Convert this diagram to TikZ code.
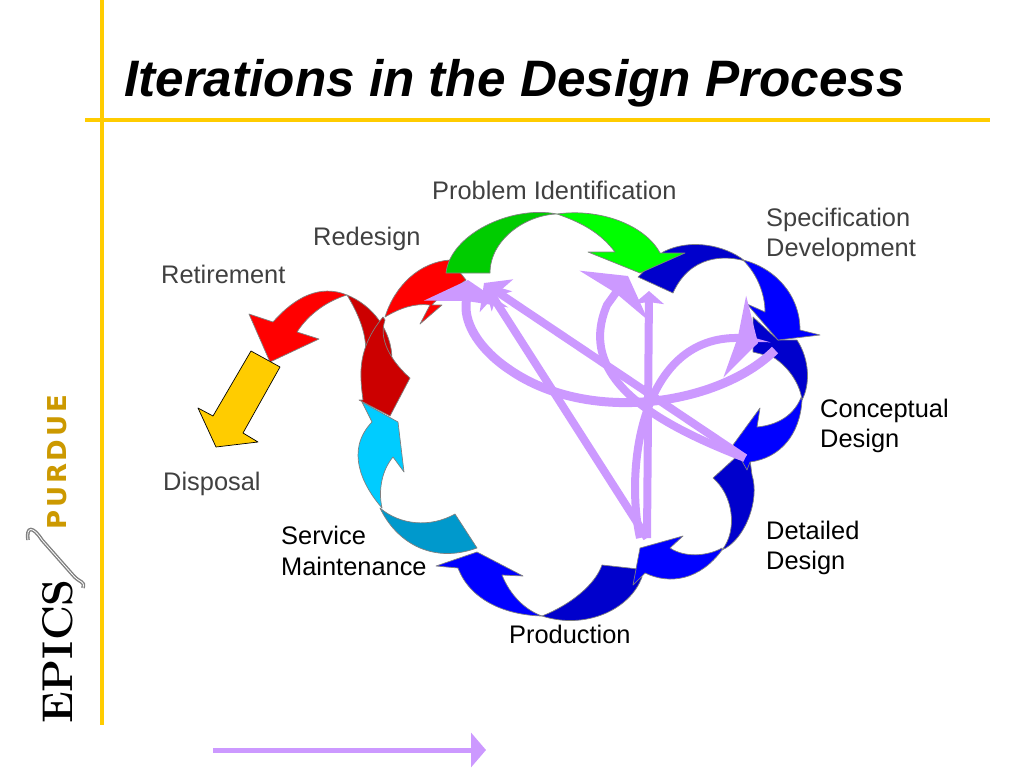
\documentclass[tikz,border=0pt]{standalone}
\usepackage{fontspec}
\usepackage{tikz}
\usetikzlibrary{arrows.meta}
\setmainfont{Liberation Sans}
\newfontfamily\logofont{DejaVu Sans}[LetterSpace=11]
\newfontfamily\epicsfont{Latin Modern Roman}
\definecolor{ruleyellow}{HTML}{FFCC00}
\definecolor{lilac}{HTML}{CC99FF}
\definecolor{teal2}{HTML}{0099CC}
\definecolor{sky}{HTML}{00CCFF}
\definecolor{gold}{HTML}{CC9900}
\definecolor{greytext}{HTML}{404040}
\tikzset{
  band/.style={draw=gray, line width=.7pt, line join=round},
  lbl/.style={font=\fontsize{25.4}{30.7}\selectfont, inner sep=0pt, align=left, anchor=west},
  hop/.style={color=lilac, line width=8pt},
  bighead/.style={-{Stealth[length=24pt,width=84pt,inset=3pt]}},
  midhead/.style={-{Stealth[length=22pt,width=38pt,inset=5pt]}},
  smallhead/.style={-{Stealth[length=13pt,width=30pt,inset=2pt]}}
}
\begin{document}
\begin{tikzpicture}[x=1pt,y=-1pt]
\useasboundingbox (0,0) rectangle (1024,768);
% frame and title
\draw[ruleyellow, line width=4pt] (102,0) -- (102,725);
\draw[ruleyellow, line width=4pt] (85,120) -- (990,120);
\node[inner sep=0pt, anchor=base west, font=\fontsize{51.25}{60}\selectfont\bfseries\itshape] (title) at (124,96) {Iterations in the Design Process};
% logo
\node[rotate=90, inner sep=0pt, anchor=base west, text=gold, font=\fontsize{26}{30}\selectfont\logofont\bfseries] (purdue) at (66,530) {PURDUE};
\node[rotate=90, inner sep=0pt, anchor=base west, font=\fontsize{43}{50}\selectfont\epicsfont\bfseries] (epics) at (72,724) {EPICS};
\draw[gray, line width=1.4pt, double=white, double distance=.8pt] (28,540) .. controls (26,526) and (33,526) .. (42,540) -- (72,574) .. controls (80,584) and (85,580) .. (83,588);
% cycle, back to front
\fill[band, fill=red] (347,295) .. controls (320,284) and (295,297) .. (273,322) -- (249,314) -- (270,362) -- (319,339) -- (297,332) .. controls (310,312) and (330,300) .. (347,295) -- cycle;
\fill[band, fill=ruleyellow, draw=black] (251,351) -- (280,367) -- (243,433) -- (258,442) -- (216,447) -- (198,408) -- (213,416) -- cycle;
\fill[band, fill=red!80!black] (347,295) .. controls (372,305) and (392,330) .. (392,360) -- (365,360) .. controls (368,340) and (362,320) .. (347,295) -- cycle;
\fill[band, fill=red] (385,317) .. controls (395,285) and (420,262) .. (450,260) -- (466,280) .. controls (450,292) and (435,300) .. (432,305) -- (442,305) -- (420,324) -- (430,305) .. controls (415,303) and (400,308) .. (385,317) -- cycle;
\fill[band, fill=red!80!black] (383,317) .. controls (368,335) and (360,355) .. (361,378) .. controls (361,385) and (362,392) .. (363,400) -- (359,400) -- (390,416) -- (410,378) .. controls (392,362) and (378,340) .. (385,320) -- cycle;
\fill[band, fill=sky] (382,508) .. controls (362,485) and (345,450) .. (372,422) -- (362,402) -- (398,422) -- (404,472) -- (393,457) .. controls (382,470) and (378,490) .. (382,508) -- cycle;
\fill[band, fill=teal2] (380,508) .. controls (395,540) and (430,565) .. (477,548) -- (455,514) .. controls (430,528) and (400,525) .. (380,508) -- cycle;
\fill[band, fill=blue] (542,616) .. controls (505,615) and (470,600) .. (458,568) -- (436,566) -- (477,552) -- (523,576) -- (502,575) .. controls (510,595) and (525,610) .. (542,616) -- cycle;
\fill[band, fill=blue!80!black] (542,616) .. controls (585,630) and (630,610) .. (642,577) -- (638,569) -- (602,565) .. controls (595,585) and (570,605) .. (542,616) -- cycle;
\fill[band, fill=blue] (722,550) .. controls (700,580) and (670,585) .. (645,573) -- (633,585) -- (640,548) -- (683,536) -- (670,548) .. controls (685,558) and (708,556) .. (722,548) -- cycle;
\fill[band, fill=blue!80!black] (735,458) -- (713,478) .. controls (733,495) and (738,530) .. (722,550) .. controls (745,540) and (760,500) .. (752,475) -- (750,460) -- cycle;
\fill[band, fill=blue] (802,400) .. controls (800,435) and (780,458) .. (750,462) -- (747,470) -- (733,445) -- (760,408) -- (757,427) .. controls (778,425) and (795,415) .. (802,395) -- cycle;
\fill[band, fill=blue!80!black] (753,317) -- (778,340) -- (797,340) .. controls (810,360) and (810,385) .. (802,400) .. controls (800,385) and (790,368) .. (773,357) -- (753,352) -- cycle;
\fill[band, fill=blue] (743,260) .. controls (775,268) and (800,295) .. (800,330) -- (820,335) -- (778,340) -- (747,304) -- (765,312) .. controls (765,295) and (758,275) .. (743,260) -- cycle;
\fill[band, fill=blue!80!black] (638,277) -- (663,252) .. controls (690,238) and (725,245) .. (745,261) .. controls (725,255) and (690,255) .. (673,293) -- cycle;
\fill[band, fill=green!80!black] (446,273) .. controls (450,235) and (510,205) .. (557,214) .. controls (525,215) and (490,240) .. (490,273) -- cycle;
\fill[band, fill=green] (557,214) .. controls (600,208) and (645,225) .. (660,253) -- (685,253) -- (640,273) -- (588,252) -- (615,252) .. controls (600,232) and (580,222) .. (557,214) -- cycle;
% feedback paths
\coordinate (srcA) at (640,538);
\coordinate (srcB) at (647,538);
\coordinate (srcC) at (745,458);
\coordinate (srcD) at (775,350);
\coordinate (dstTop) at (649,291);
\coordinate (dstMid) at (628,276);
\coordinate (dstRight) at (758,343);
\coordinate (dstArc) at (468,280);
\coordinate (dstLeft) at (484,283);
\draw[hop, smallhead] (srcB) -- (dstTop);
\draw[hop, midhead] (srcB) -- (dstLeft);
\draw[hop, midhead] (srcC) -- (dstLeft);
\draw[hop, bighead] (srcC) .. controls (660,425) and (575,380) .. (607,305) -- (dstMid);
\draw[hop, bighead] (srcA) .. controls (625,470) and (640,335) .. (740,338) -- (dstRight);
\draw[hop, bighead, line width=9pt] (srcD) .. controls (720,405) and (590,425) .. (510,370) .. controls (480,350) and (465,325) .. (466,305) -- (dstArc);
\draw[lilac, line width=5pt, -{Stealth[length=15pt,width=34pt,inset=0pt]}] (213,750) -- (486,750);
% labels
\node[lbl, text=greytext] (problem) at (432,190) {Problem Identification};
\node[lbl, text=greytext] (spec) at (766,235) {Specification\\Development};
\node[lbl, text=greytext] (redesign) at (313,239) {Redesign};
\node[lbl, text=greytext] (retire) at (161,274) {Retirement};
\node[lbl, text=greytext] (disposal) at (163,484) {Disposal};
\node[lbl] (service) at (281,551) {Service\\Maintenance};
\node[lbl] (production) at (509,634) {Production};
\node[lbl] (detailed) at (766,548) {Detailed\\Design};
\node[lbl] (conceptual) at (820,426) {Conceptual\\Design};
\end{tikzpicture}
\end{document}
